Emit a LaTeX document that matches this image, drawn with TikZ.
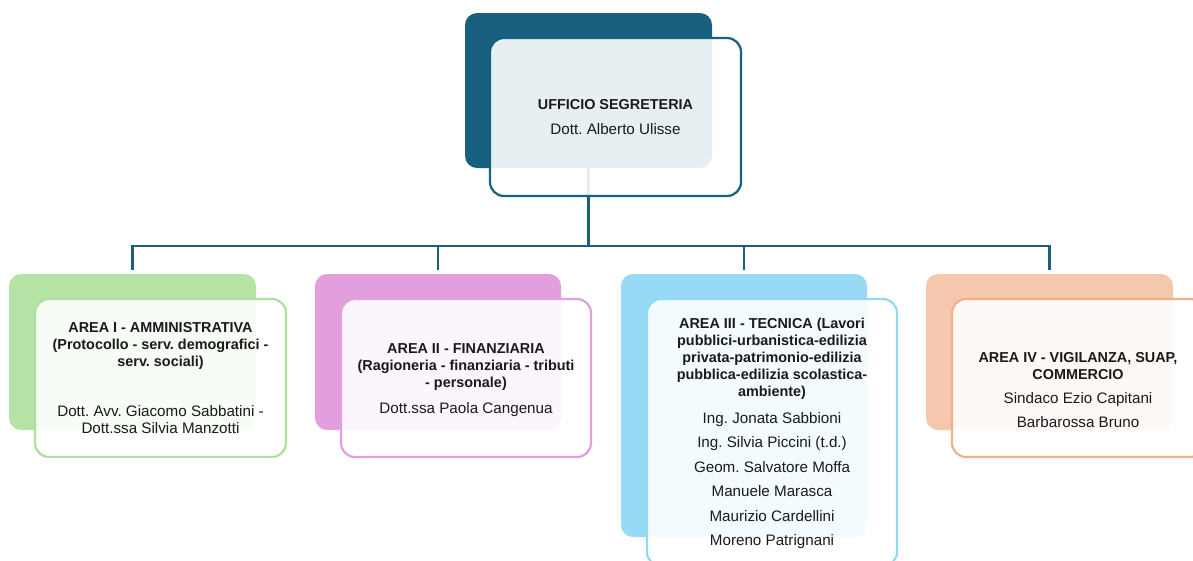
\documentclass[tikz,border=0pt]{standalone}
\usepackage{fontspec}
\setmainfont{Liberation Sans}
\frenchspacing
\definecolor{teal1}{HTML}{17607F}
\definecolor{conncol}{HTML}{1D5E7B}
\definecolor{greenB}{HTML}{B4E3A5}
\definecolor{greenS}{HTML}{ACDFA0}
\definecolor{pinkB}{HTML}{E39FDD}
\definecolor{pinkS}{HTML}{E3A0DD}
\definecolor{blueB}{HTML}{97DAF5}
\definecolor{blueS}{HTML}{95D8F4}
\definecolor{peachB}{HTML}{F5C8AE}
\definecolor{peachS}{HTML}{F3AF8D}
\definecolor{txt}{HTML}{1A1A1A}
\tikzset{
  backbox/.style={rectangle, rounded corners=12pt, inner sep=0pt, draw=none},
  frontbox/.style={rectangle, rounded corners=14pt, inner sep=0pt, line width=2.2pt, fill=white, fill opacity=0.9},
  conn/.style={draw=conncol, line width=2.4pt},
  ttl/.style={font=\frenchspacing\bfseries\fontsize{14.4}{17}\selectfont, text=txt, align=center, inner sep=0pt, anchor=base},
  nm/.style={font=\frenchspacing\fontsize{15.2}{17}\selectfont, text=txt, align=center, inner sep=0pt, anchor=base},
  nmw/.style={font=\frenchspacing\fontsize{15.2}{24.5}\selectfont, text=txt, align=center, inner sep=0pt, anchor=base},
}
\begin{document}
\begin{tikzpicture}[x=1pt,y=-1pt]
\useasboundingbox (0,0) rectangle (1193,560);
\clip (0,0) rectangle (1193,560);
% back boxes
\node[backbox, fill=teal1, minimum width=247pt, minimum height=155pt] (b0) at (588.5,90.5) {};
\node[backbox, fill=greenB, minimum width=247pt, minimum height=156pt] (b1) at (132.5,352) {};
\node[backbox, fill=pinkB, minimum width=246pt, minimum height=156pt] (b2) at (438,352) {};
\node[backbox, fill=blueB, minimum width=246pt, minimum height=263pt] (b3) at (744,405.5) {};
\node[backbox, fill=peachB, minimum width=247pt, minimum height=156pt] (b4) at (1049.5,352) {};
% connectors
\coordinate (bus) at (588.5,246);
\draw[conn] (b0.south) -- (bus);
\draw[conn, shorten <=4pt] (b1.north) |- (bus);
\draw[conn, shorten <=4pt] (b2.north) |- (bus);
\draw[conn, shorten <=4pt] (b3.north) |- (bus);
\draw[conn, shorten <=4pt] (b4.north) |- (bus);
% front boxes
\node[frontbox, draw=teal1, minimum width=251pt, minimum height=158pt] (f0) at (615.5,117) {};
\node[frontbox, draw=greenS, minimum width=251pt, minimum height=158pt] (f1) at (160.5,378) {};
\node[frontbox, draw=pinkS, minimum width=250pt, minimum height=158pt] (f2) at (466,378) {};
\node[frontbox, draw=blueS, minimum width=250pt, minimum height=267pt] (f3) at (772,432.5) {};
\node[frontbox, draw=peachS, minimum width=252pt, minimum height=158pt] (f4) at (1078,378) {};
% texts (anchor base = baseline of last line)
\node[ttl] (t0) at (615.5,109) {UFFICIO SEGRETERIA};
\node[nm] (n0) at (615.5,134) {Dott. Alberto Ulisse};
\node[ttl] (t1) at (160.5,366) {AREA I - AMMINISTRATIVA\\(Protocollo - serv. demografici -\\serv. sociali)};
\node[nm] (n1) at (160.5,433) {Dott. Avv. Giacomo Sabbatini -\\Dott.ssa Silvia Manzotti};
\node[ttl] (t2) at (466,387) {AREA II - FINANZIARIA\\(Ragioneria - finanziaria - tributi\\- personale)};
\node[nm] (n2) at (466,413) {Dott.ssa Paola Cangenua};
\node[ttl] (t3) at (772,396) {AREA III - TECNICA (Lavori\\pubblici-urbanistica-edilizia\\privata-patrimonio-edilizia\\pubblica-edilizia scolastica-\\ambiente)};
\node[nmw] (n3) at (772,545.5) {Ing. Jonata Sabbioni\\Ing. Silvia Piccini (t.d.)\\Geom. Salvatore Moffa\\Manuele Marasca\\Maurizio Cardellini\\Moreno Patrignani};
\node[ttl] (t4) at (1078,379) {AREA IV - VIGILANZA, SUAP,\\COMMERCIO};
\node[nmw] (n4) at (1078,427.5) {Sindaco Ezio Capitani\\Barbarossa Bruno};
\end{tikzpicture}
\end{document}
